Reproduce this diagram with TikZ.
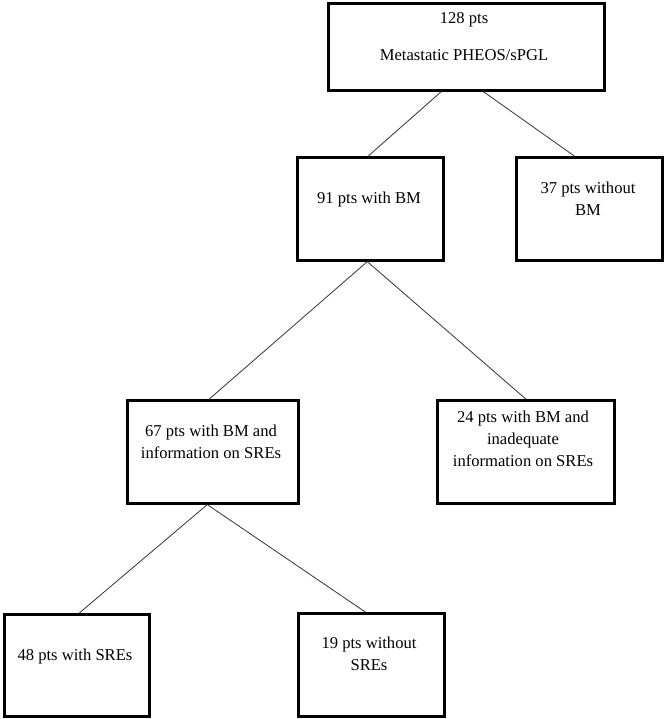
\documentclass[tikz,border=0pt]{standalone}
\usepackage{fontspec}
\setmainfont{Liberation Serif}
\begin{document}
\begin{tikzpicture}[x=1pt,y=-1pt,
  box/.style={draw=black,line width=2.6pt,rectangle,inner sep=0pt,anchor=north west},
  txt/.style={align=center,inner sep=0pt,font=\fontsize{16.6}{22}\selectfont},
  link/.style={draw=black!80,line width=0.8pt}]
\useasboundingbox (0,0) rectangle (663,719);
% boxes
\node[box,minimum width=276pt,minimum height=87pt] (b1) at (327,2) {};
\node[box,minimum width=146pt,minimum height=103pt] (b2) at (296,156) {};
\node[box,minimum width=146pt,minimum height=103pt] (b3) at (515,156) {};
\node[box,minimum width=171pt,minimum height=103pt] (b4) at (126,399) {};
\node[box,minimum width=177pt,minimum height=103pt] (b5) at (436,399) {};
\node[box,minimum width=145pt,minimum height=102pt] (b6) at (3,613) {};
\node[box,minimum width=146pt,minimum height=103pt] (b7) at (297,612) {};
% texts
\node[txt] (t1a) at (464,20) {128 pts};
\node[txt] (t1b) at (464,55) {Metastatic PHEOS/sPGL};
\node[txt] (t2) at (369,200) {91 pts with BM};
\node[txt] (t3) at (588,199) {37 pts without\\BM};
\node[txt] (t4) at (211,442) {67 pts with BM and\\information on SREs};
\node[txt] (t5) at (523,438.5) {24 pts with BM and\\inadequate\\information on SREs};
\node[txt] (t6) at (75,656) {48 pts with SREs};
\node[txt] (t7) at (369,654) {19 pts without\\SREs};
% connectors
\draw[link] ([xshift=-25pt]b1.south) -- ([xshift=-2pt]b2.north);
\draw[link] ([xshift=17pt]b1.south) -- ([xshift=-15pt]b3.north);
\draw[link] ([xshift=-3pt]b2.south) -- ([xshift=-3.5pt]b4.north);
\draw[link] ([xshift=-3pt]b2.south) -- (b5.north);
\draw[link] ([xshift=-5.5pt]b4.south) -- ([xshift=2.5pt]b6.north);
\draw[link] ([xshift=-5.5pt]b4.south) -- ([xshift=-6pt]b7.north);
\end{tikzpicture}
\end{document}
